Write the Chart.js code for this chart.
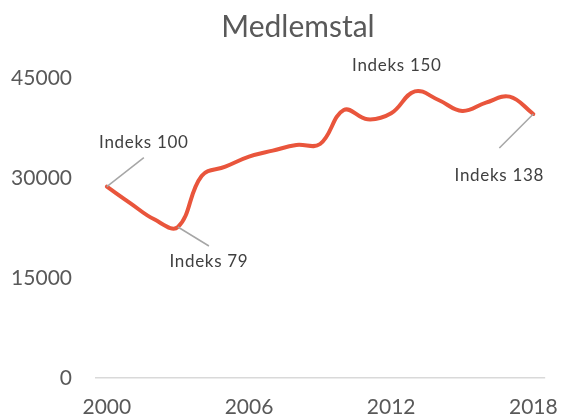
<!DOCTYPE html>
<html>
<head>
<meta charset="utf-8">
<script src="https://cdn.jsdelivr.net/npm/chart.js@4"></script>
<style>
  html, body { margin: 0; padding: 0; background: #fff; }
  #wrap { width: 575px; height: 418px; }
</style>
</head>
<body>
<div id="wrap"><canvas id="chart_view"></canvas></div>
<script>
// data ---------------------------------
const years = ['2000','2001','2002','2003','2004','2005','2006','2007','2008','2009',
  '2010','2011','2012','2013','2014','2015','2016','2017','2018'];
const members = [28700, 26200, 23800, 22650, 30300, 31700, 33200, 34100, 34950, 35100,
  40200, 38800, 39700, 43000, 41700, 40050, 41300, 42200, 39600];
const yTicks = [0, 15000, 30000, 45000];
const titleText = 'Medlemstal';
const noteYears = ['2000', '2003', '2013', '2018'];
const noteTexts = ['Indeks 100', 'Indeks 79', 'Indeks 150', 'Indeks 138'];

// label placement (offset from point) and leader line end, px
const noteLayout = [
  { dx: 37, dy: -44, lx: 37, ly: -29 },
  { dx: 31, dy: 35, lx: 31, ly: 19 },
  { dx: -18, dy: -26, lx: null, ly: null },
  { dx: -34, dy: 62, lx: -34, ly: 34 }
];

var target = document.getElementById('chart_view');

// title sits a bit right of the canvas centre, like the original
const titlePlugin = {
  id: 'titleText',
  afterDraw(chart) {
    const ctx = chart.ctx;
    ctx.save();
    ctx.fillStyle = '#595959';
    ctx.font = '30px Lato';
    ctx.textAlign = 'center';
    ctx.textBaseline = 'alphabetic';
    ctx.fillText(titleText, 298, 37);
    ctx.restore();
  }
};

const notesPlugin = {
  id: 'notes',
  afterDatasetsDraw(chart) {
    const ctx = chart.ctx;
    const meta = chart.getDatasetMeta(0);
    ctx.save();
    noteYears.forEach(function (yr, i) {
      const pt = meta.data[years.indexOf(yr)];
      const lay = noteLayout[i];
      if (lay.lx !== null) {
        ctx.strokeStyle = '#a6a6a6';
        ctx.lineWidth = 1.5;
        ctx.beginPath();
        ctx.moveTo(pt.x, pt.y);
        ctx.lineTo(pt.x + lay.lx, pt.y + lay.ly);
        ctx.stroke();
      }
      ctx.fillStyle = '#404040';
      ctx.font = '17px Lato';
      ctx.letterSpacing = '0.7px';
      ctx.textAlign = 'center';
      ctx.textBaseline = 'middle';
      ctx.fillText(noteTexts[i], pt.x + lay.dx, pt.y + lay.dy);
    });
    ctx.restore();
  }
};

const data = {
  labels: years,
  datasets: [{
    label: titleText,
    data: members,
    borderColor: 'rgb(233,85,60)',
    backgroundColor: 'rgb(233,85,60)',
    borderWidth: 4,
    tension: 0.4,
    pointRadius: 0,
    borderCapStyle: 'round'
  }]
};

const config = {
  type: 'line',
  data: data,
  plugins: [notesPlugin, titlePlugin],
  options: {
    responsive: true,
    maintainAspectRatio: false,
    animation: false,
    layout: { padding: { left: 0, right: 12, top: 78, bottom: 0 } },
    plugins: {
      legend: { display: false },
      tooltip: { enabled: false },
      title: { display: false }
    },
    scales: {
      x: {
        offset: true,
        grid: { display: false, drawTicks: false },
        border: { display: false },
        ticks: {
          autoSkip: false,
          maxRotation: 0,
          padding: 17,
          color: '#595959',
          font: { family: 'Lato', size: 21 },
          callback: function (v, i) { return i % 6 === 0 ? years[i] : ''; }
        },
        afterFit: function (s) { s.height = 40; }
      },
      y: {
        min: 0,
        max: 45000,
        afterBuildTicks: function (s) { s.ticks = yTicks.map(function (v) { return { value: v }; }); },
        grid: {
          drawTicks: false,
          lineWidth: 1.5,
          color: function (c) { return c.tick && c.tick.value === 0 ? '#d9d9d9' : 'rgba(0,0,0,0)'; }
        },
        border: { display: false },
        ticks: {
          padding: 23,
          color: '#595959',
          font: { family: 'Lato', size: 21 },
          callback: function (v) { return String(v); }
        },
        afterFit: function (s) { s.width = 95; }
      }
    }
  }
};

var myChart = new Chart(target, config);
</script>
</body>
</html>
